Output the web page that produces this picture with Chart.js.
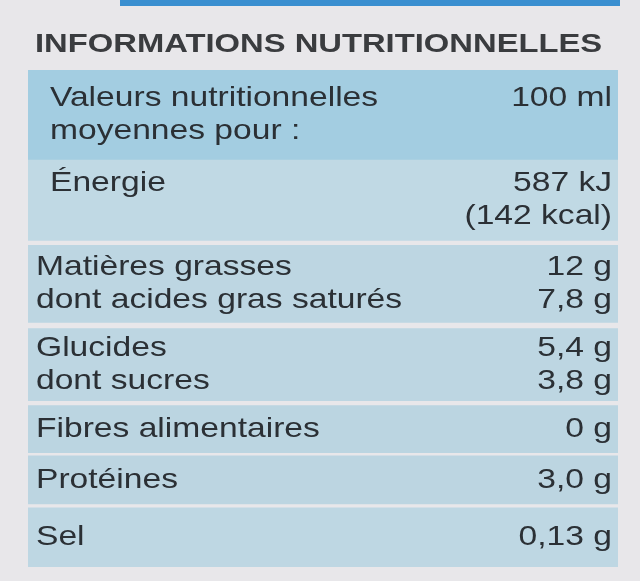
<!DOCTYPE html>
<html>
<head>
<meta charset="utf-8">
<script src="https://cdn.jsdelivr.net/npm/chart.js"></script>
<style>
  html, body { margin: 0; padding: 0; background: #e8e7ea; }
  #strip { position: absolute; left: 120px; top: 0; width: 500px; height: 6px; background: #3a8fd0; }
  #wrap { width: 640px; height: 581px; position: relative; }
</style>
</head>
<body>
<div id="wrap">
  <div id="strip"></div>
  <canvas id="label" width="640" height="581"></canvas>
</div>
<script>
let title = "INFORMATIONS NUTRITIONNELLES";

// row bounds (in page pixels)
let rowTops = [70, 160, 245, 328, 405, 455, 507];
let rowBottoms = [160, 240, 322, 400, 452, 503, 566];

let rowNames = [
  ["Valeurs nutritionnelles", "moyennes pour :"],
  ["Énergie", ""],
  ["Matières grasses", "dont acides gras saturés"],
  ["Glucides", "dont sucres"],
  ["Fibres alimentaires"],
  ["Protéines"],
  ["Sel"]
];

let rowValues = [
  ["100 ml", ""],
  ["587 kJ", "(142 kcal)"],
  ["12 g", "7,8 g"],
  ["5,4 g", "3,8 g"],
  ["0 g"],
  ["3,0 g"],
  ["0,13 g"]
];

let rowIndent = [22, 22, 8, 8, 8, 8, 8];
let rowColors = ["#a3cde1", "#c0d9e4", "#bdd6e2", "#bdd6e2", "#bbd5e1", "#bcd5e1", "#bed7e3"];

// draw stretched text (the label font is wider than Liberation Sans)
function wideText(ctx, text, x, y, align, stretch) {
  ctx.save();
  ctx.translate(x, y);
  ctx.scale(stretch, 1);
  ctx.textAlign = align;
  ctx.fillText(text, 0, 0);
  ctx.restore();
}

let tableText = {
  id: "tableText",
  afterDatasetsDraw(chart) {
    let ctx = chart.ctx;
    let y = chart.scales.y;
    let area = chart.chartArea;
    ctx.save();
    ctx.fillStyle = "#3a3c3f";
    ctx.font = "bold 26px 'Liberation Sans', Arial, sans-serif";
    ctx.textBaseline = "middle";
    wideText(ctx, title, 35, 45, "left", 1.26);

    ctx.fillStyle = "#2b3035";
    ctx.font = "28px 'Liberation Sans', Arial, sans-serif";
    for (let i = 0; i < rowNames.length; i++) {
      let top = y.getPixelForValue(rowTops[i]);
      let bottom = y.getPixelForValue(rowBottoms[i]);
      let mid = (top + bottom) / 2;
      let n = rowNames[i].length;
      for (let j = 0; j < n; j++) {
        let ly = mid + (j - (n - 1) / 2) * 33;
        wideText(ctx, rowNames[i][j], area.left + rowIndent[i], ly, "left", 1.2);
        wideText(ctx, rowValues[i][j] || "", area.right - 6, ly, "right", 1.2);
      }
    }
    ctx.restore();
  }
};

let ctx = document.getElementById("label").getContext("2d");
new Chart(ctx, {
  type: "bar",
  data: {
    labels: ["table"],
    datasets: [{
      data: rowTops.map((t, i) => ({ x: "table", y: [t, rowBottoms[i]] })),
      backgroundColor: rowColors,
      borderWidth: 0,
      barPercentage: 1,
      categoryPercentage: 1,
      grouped: false
    }]
  },
  options: {
    responsive: false,
    animation: false,
    events: [],
    layout: { padding: { top: 70, bottom: 14, left: 28, right: 22 } },
    plugins: { legend: { display: false }, tooltip: { enabled: false } },
    scales: {
      x: { display: false },
      y: { display: false, reverse: true, min: 70, max: 566 }
    }
  },
  plugins: [tableText]
});
</script>
</body>
</html>
